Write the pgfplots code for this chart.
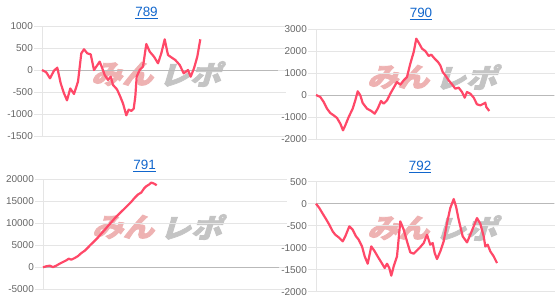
\documentclass[border=0pt]{standalone}
\usepackage{pgfplots}
\pgfplotsset{compat=1.18}
\usepackage{fontspec}
\setmainfont{Liberation Sans}
\newfontfamily\jp{Noto Sans CJK JP}[FakeBold=3]
\definecolor{linec}{RGB}{255,72,104}
\definecolor{gridc}{RGB}{229,229,229}
\definecolor{zeroc}{RGB}{185,185,185}
\definecolor{labc}{RGB}{102,102,102}
\definecolor{titc}{RGB}{17,102,204}
\definecolor{wmpink}{RGB}{238,178,178}
\definecolor{wmgray}{RGB}{196,196,196}
\pgfplotsset{
  mini/.style={
    scale only axis, height=110bp, anchor=south west,
    xmin=0, ymin=#1,
    axis line style={draw=none},
    xtick=\empty,
    ymajorgrids,
    grid style={gridc, line width=0.8bp},
    major tick length=8bp, tick align=outside,
    every tick/.style={gridc, line width=0.8bp},
    yticklabel style={font=\fontsize{10}{12}\selectfont, text=labc, inner sep=1bp},
    /pgf/number format/assume math mode=true,
    /pgf/number format/1000 sep={},
    scaled y ticks=false,
    clip=false,
  },
  ser/.style={linec, line width=2.2bp, line join=round, mark=none},
}
\newcommand\wm[2]{%
  \node[wmpink, inner sep=0pt, font=\jp\bfseries\fontsize{27}{27}\selectfont, xslant=0.3, xscale=1.15, transform shape] at (#1bp-34bp,#2bp) {みん};
  \node[wmgray, inner sep=0pt, font=\jp\bfseries\fontsize{27}{27}\selectfont, xslant=0.3, xscale=1.15, transform shape] at (#1bp+34bp,#2bp) {レポ};
}
\begin{document}
\begin{tikzpicture}
\useasboundingbox (0,0) rectangle (555bp,304bp);
\wm{159}{230}
\wm{435}{227}
\wm{160}{77}
\wm{435}{76}
\node[anchor=base, text=titc, font=\fontsize{13.5}{15}\selectfont] at (146.5bp,287.5bp) {\underline{789}};
\node[anchor=base, text=titc, font=\fontsize{13.5}{15}\selectfont] at (421bp,286bp) {\underline{790}};
\node[anchor=base, text=titc, font=\fontsize{13.5}{15}\selectfont] at (144.7bp,134.5bp) {\underline{791}};
\node[anchor=base, text=titc, font=\fontsize{13.5}{15}\selectfont] at (420.2bp,133.5bp) {\underline{792}};

% 789
\begin{axis}[mini=-1500, ymax=1000, ytick={-1500,-1000,...,1000}, width=236bp, xmax=236, at={(42bp,168bp)}]
\draw[gridc, line width=0.8bp] (rel axis cs:0,0) -- (rel axis cs:0,1);
\draw[zeroc, line width=0.8bp] (axis cs:0,0) -- (axis cs:236,0);
\addplot[ser] coordinates {(0,0) (4.3,-53) (8,-189) (12,-15) (15.3,53) (18.7,-303) (22,-530) (25,-690) (28.3,-420) (32,-545) (36,-265) (39.3,379) (42,470) (45.3,379) (48.7,356) (52,0) (54.3,76) (57.7,190) (60.3,38) (62.7,-114) (66,-227) (68.7,-150) (71,-340) (75,-440) (78.3,-606) (81,-760) (84.3,-1030) (86.7,-900) (89.3,-930) (91.7,-880) (93.3,-606) (94.7,-150) (97.7,0) (101,76) (104.3,591) (107.7,417) (112,303) (116,152) (119.3,379) (122.7,697) (126,341) (129.3,288) (133.3,227) (137.7,114) (141.7,-76) (146,0) (148.7,-152) (152,38) (155.3,303) (158.3,697)};
\end{axis}

% 790
\begin{axis}[mini=-2000, ymax=3000, ytick={-2000,-1000,...,3000}, width=238bp, xmax=238, at={(316bp,165bp)}]
\draw[gridc, line width=0.8bp] (rel axis cs:0,0) -- (rel axis cs:0,1);
\draw[zeroc, line width=0.8bp] (axis cs:0,0) -- (axis cs:238,0);
\addplot[ser] coordinates {(0,0) (4.3,-90) (7.7,-318) (11,-620) (14.3,-820) (17.7,-924) (21,-1045) (24.3,-1300) (27,-1606) (29.3,-1380) (32.7,-1000) (36.7,-620) (39.3,-242) (41.7,167) (44.3,-15) (46.7,-364) (51,-620) (55.3,-727) (58.7,-850) (61.7,-620) (65,-273) (67.7,-394) (71,-242) (74.3,60) (77.7,333) (81,590) (84.3,470) (87.7,667) (91,818) (94.3,1424) (97.7,1955) (100.3,2560) (103.3,2333) (106,2106) (109.3,2000) (112.7,1773) (115.3,1833) (118.7,1650) (122,1500) (124.3,1348) (126.7,1045) (129.3,894) (132.7,667) (136,485) (139.3,288) (142.7,333) (146,136) (148.7,-121) (151,136) (154.3,60) (157.7,-121) (161,-424) (164.3,-470) (167.7,-394) (169.3,-350) (170.3,-545) (173.3,-727)};
\end{axis}

% 791
\begin{axis}[mini=-5000, ymax=20000, ytick={-5000,0,...,20000}, width=236bp, xmax=236, at={(43bp,14.7bp)}]
\draw[gridc, line width=0.8bp] (rel axis cs:0,0) -- (rel axis cs:0,1);
\draw[zeroc, line width=0.8bp] (axis cs:0,0) -- (axis cs:236,0);
\addplot[ser] coordinates {(0,0) (3.3,226) (6.7,376) (10,50) (13.3,376) (16.7,827) (20,1203) (23.3,1579) (25.7,1955) (28.3,1730) (31.7,2106) (35,2557) (38.3,3234) (41.7,3760) (45,4512) (48.3,5264) (51.7,6016) (55,6768) (58.3,7670) (61.7,8498) (65,9400) (68.3,10227) (71.7,11130) (75,11882) (78.3,12634) (81.7,13386) (85,14138) (88.3,14890) (91.7,15792) (95,16544) (98.3,16995) (101,17898) (103.3,18424) (106,18800) (108.3,19251) (111,19026) (113.7,18650)};
\end{axis}

% 792
\begin{axis}[mini=-2000, ymax=500, ytick={-2000,-1500,...,500}, width=238bp, xmax=238, at={(316bp,12.3bp)}]
\draw[gridc, line width=0.8bp] (rel axis cs:0,0) -- (rel axis cs:0,1);
\draw[zeroc, line width=0.8bp] (axis cs:0,0) -- (axis cs:238,0);
\addplot[ser] coordinates {(0,0) (3.3,-98) (6.7,-227) (10,-348) (13.3,-477) (16.7,-629) (19.3,-705) (22.7,-765) (26.7,-856) (29.3,-742) (33.3,-515) (36.7,-591) (40,-742) (42.7,-818) (46,-970) (48.7,-1197) (51.7,-1364) (55.3,-970) (58.7,-1083) (62,-1212) (65.3,-1333) (68.7,-1462) (71,-1364) (73.3,-1462) (75.3,-1636) (77.7,-1424) (81,-1197) (84.3,-402) (87.7,-591) (91,-856) (94.3,-1106) (97.7,-1136) (101,-1061) (104.3,-985) (107.7,-894) (111,-705) (114.3,-932) (116.7,-894) (118.7,-1121) (121,-1258) (124.3,-1083) (127.7,-856) (131,-439) (134.3,-98) (137.7,106) (140,-61) (142.7,-364) (146.7,-742) (151,-879) (154.3,-705) (157.7,-515) (161,-326) (164.3,-455) (167.7,-742) (169.3,-970) (171.7,-932) (174.3,-1083) (177.7,-1197) (181,-1348)};
\end{axis}
\end{tikzpicture}
\end{document}
